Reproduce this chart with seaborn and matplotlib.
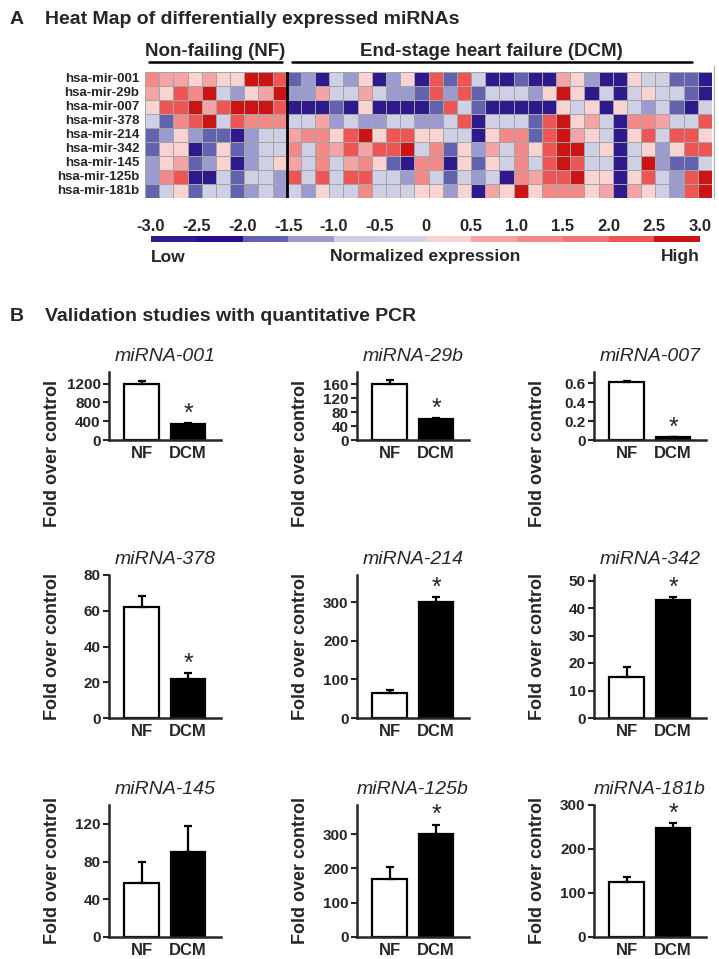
import numpy as np
import pandas as pd
import matplotlib
matplotlib.use("Agg")
import matplotlib.pyplot as plt
import seaborn as sns
from matplotlib.colors import ListedColormap, Normalize
from matplotlib.lines import Line2D
from matplotlib.cm import ScalarMappable

# ---- heat map data (normalized expression) ----
mirna_rows = ["hsa-mir-001", "hsa-mir-29b", "hsa-mir-007", "hsa-mir-378", "hsa-mir-214",
              "hsa-mir-342", "hsa-mir-145", "hsa-mir-125b", "hsa-mir-181b"]
n_nf = 10
n_dcm = 30
row_001 = [1.3, 0.8, 0.8, 0.3, 0.8, 0.3, 0.3, 2.8, 2.8, 2.2,
           -1.8, -1.2, -2.8, -0.6, -1.2, 0.3, -2.8, -1.2, 0.3, -2.8, 2.2, -1.8, 2.2, -0.6, -2.8,
           -2.8, -1.8, -2.8, -2.8, 0.8, 0.3, -1.2, -2.8, -2.8, 0.3, -0.6, -0.6, -1.8, -1.8, -2.8]
row_29b = [0.8, 0.3, 2.2, 1.3, 2.8, -0.6, -1.2, 0.3, 0.8, 2.8,
           -1.2, -1.2, 0.8, -0.6, -0.6, 0.8, -0.6, -1.2, -1.2, -1.8, 2.2, -1.2, 2.2, -1.8, -0.6,
           -0.6, -0.6, -1.2, 0.3, 2.8, 0.3, -2.8, -0.6, -2.8, -0.6, 0.3, -0.6, -0.6, -1.8, -2.8]
row_007 = [0.3, 2.2, 2.2, 2.8, 0.8, 2.2, 2.8, 2.8, 2.8, 2.2,
           -2.8, -2.8, -2.8, -1.8, -2.8, 0.3, -2.8, -2.8, -2.8, -2.8, -1.8, 2.2, -0.6, -1.8, -2.8,
           -2.8, -2.8, -2.8, -2.8, 0.3, -0.6, 0.3, -2.8, 0.3, -0.6, -1.2, -0.6, -1.8, -2.8, -0.6]
row_378 = [-0.6, -1.8, 1.3, 2.2, 2.8, -0.6, 2.2, 1.3, 1.3, 1.3,
           -0.6, -0.6, 0.8, -1.2, -0.6, -1.2, -1.2, -0.6, -0.6, -1.2, -1.2, -0.6, 2.2, -2.8, -0.6,
           -0.6, -0.6, -1.8, 2.2, 2.8, 0.3, 0.8, -0.6, -2.8, 1.3, 1.3, 0.8, -0.6, -0.6, 2.2]
row_214 = [-1.8, -1.2, 0.3, -1.2, -1.8, -1.8, -2.8, -1.2, -0.6, -0.6,
           0.8, 1.3, 1.3, 0.3, 2.2, 2.8, 0.3, 2.2, 2.2, 0.3, 0.3, -0.6, -0.6, -2.8, 0.3,
           1.3, 1.3, -1.8, 2.2, 2.8, 0.8, 0.3, -0.6, -2.8, 0.3, 2.2, -0.6, 2.2, 2.2, 0.3]
row_342 = [-1.8, 0.3, 0.3, -2.8, -1.8, 0.3, -1.8, -1.2, -0.6, -0.6,
           1.3, -0.6, 1.3, 0.8, 2.2, 0.8, 2.2, 2.2, 2.8, -0.6, 1.3, -1.8, 0.3, -1.2, 0.8,
           -0.6, 1.3, 0.3, 2.2, 2.8, 2.8, -0.6, 0.3, -2.8, -0.6, 0.3, -1.2, 0.3, 2.2, 2.2]
row_145 = [-1.2, 0.3, 0.8, -1.8, -1.2, 0.3, -2.8, -1.2, -0.6, 0.3,
           0.8, -0.6, 1.3, -0.6, 0.8, 1.3, 0.3, -1.8, -2.8, 1.3, 1.3, -2.8, 0.3, -1.8, 0.3,
           -0.6, 1.3, -0.6, 2.2, 2.8, 2.2, -0.6, -0.6, -2.8, -0.6, 2.8, -1.2, -1.8, -1.8, -0.6]
row_125b = [-1.2, 1.3, 2.2, -2.8, -2.8, -0.6, -1.8, -0.6, -0.6, -1.2,
            2.2, -0.6, 2.2, -0.6, 2.2, 2.2, -0.6, -0.6, -1.2, 1.3, -0.6, -1.8, -0.6, -1.2, -0.6,
            -2.8, 1.3, 0.8, 2.2, 2.2, 2.8, 0.3, 0.3, -2.8, 0.3, 2.2, -0.6, -1.2, 2.2, 2.8]
row_181b = [-1.8, -0.6, 0.3, -1.8, -0.6, -0.6, -1.8, -1.2, -0.6, -1.2,
            -0.6, -1.2, 0.3, -0.6, -0.6, 1.3, -0.6, -0.6, -0.6, 0.3, 0.3, -1.2, 0.3, -2.8, 0.8,
            0.3, 2.8, 0.3, 1.3, 1.3, 1.3, 0.3, 0.8, -2.8, 0.8, 0.3, -0.6, -1.2, 2.2, 2.8]
heat_colors = ["#2e1a8c", "#2a0a86", "#6262ae", "#9b9bcf", "#cfcfe6", "#d2d2e8",
               "#f9d2d2", "#f4a4a4", "#f38989", "#f07272", "#ee5656", "#cc1414"]
cbar_ticks = [-3.0, -2.5, -2.0, -1.5, -1.0, -0.5, 0, 0.5, 1.0, 1.5, 2.0, 2.5, 3.0]
cbar_labels = ["-3.0", "-2.5", "-2.0", "-1.5", "-1.0", "-0.5", "0", "0.5", "1.0", "1.5", "2.0", "2.5", "3.0"]

# ---- qPCR validation data ----
groups = ["NF", "DCM"]
panel_titles = ["miRNA-001", "miRNA-29b", "miRNA-007", "miRNA-378", "miRNA-214",
                "miRNA-342", "miRNA-145", "miRNA-125b", "miRNA-181b"]
nf_mean = [1200, 160, 0.61, 62, 65, 15, 57, 170, 125]
nf_err = [55, 12, 0.015, 6, 8, 3.5, 23, 33, 12]
dcm_mean = [340, 60, 0.03, 22, 300, 43, 90, 300, 248]
dcm_err = [20, 4, 0.005, 3, 14, 1, 28, 28, 10]
significant = [True, True, True, True, True, True, False, True, True]
yticks = [[0, 400, 800, 1200], [0, 40, 80, 120, 160], [0, 0.2, 0.4, 0.6],
          [0, 20, 40, 60, 80], [0, 100, 200, 300], [0, 10, 20, 30, 40, 50],
          [0, 40, 80, 120], [0, 100, 200, 300], [0, 100, 200, 300]]
ytick_labels = [["0", "400", "800", "1200"], ["0", "40", "80", "120", "160"], ["0", "0.2", "0.4", "0.6"],
                ["0", "20", "40", "60", "80"], ["0", "100", "200", "300"], ["0", "10", "20", "30", "40", "50"],
                ["0", "40", "80", "120"], ["0", "100", "200", "300"], ["0", "100", "200", "300"]]
ytops = [1450, 195, 0.72, 80, 370, 52, 140, 385, 300]

sns.set_style("ticks")
plt.rcParams["font.family"] = ["Liberation Sans", "DejaVu Sans"]

W, H = 719, 959
fig = plt.figure(figsize=(W / 100, H / 100), dpi=100)


def box(x0, y0, x1, y1):
    return [x0 / W, 1 - y1 / H, (x1 - x0) / W, (y1 - y0) / H]


def fx(x):
    return x / W


def fy(y):
    return 1 - y / H


# ---- panel A ----
fig.text(fx(10), fy(20), "A", fontsize=14, fontweight="bold", va="center")
fig.text(fx(45), fy(20), "Heat Map of differentially expressed miRNAs", fontsize=14,
         fontweight="bold", va="center")
fig.text(fx(215), fy(51), "Non-failing (NF)", fontsize=13.5, fontweight="bold", ha="center", va="center")
fig.text(fx(491), fy(51), "End-stage heart failure (DCM)", fontsize=13.5, fontweight="bold",
         ha="center", va="center")
fig.add_artist(Line2D([fx(149), fx(282)], [fy(62), fy(62)], color="black", lw=1.8))
fig.add_artist(Line2D([fx(292), fx(692)], [fy(62), fy(62)], color="black", lw=1.8))

heat = pd.DataFrame([row_001, row_29b, row_007, row_378, row_214, row_342, row_145, row_125b, row_181b],
                    index=mirna_rows)
cmap = ListedColormap(heat_colors)
ax_hm = fig.add_axes(box(145, 72, 712, 198))
sns.heatmap(heat, cmap=cmap, vmin=-3, vmax=3, cbar=False, linewidths=0.6, linecolor="#a4a4a4",
            xticklabels=False, yticklabels=True, ax=ax_hm)
ax_hm.axvline(n_nf, color="black", lw=2)
ax_hm.set_ylabel("")
ax_hm.tick_params(axis="y", length=0, pad=4)
for t in ax_hm.get_yticklabels():
    t.set_fontweight("bold")
    t.set_fontsize(9.5)
    t.set_rotation(0)
# thin grey edge line at the right side of the heat map
fig.add_artist(Line2D([fx(714), fx(714)], [fy(66), fy(198)], color="#b4b4b4", lw=1))

cax = fig.add_axes(box(151, 236, 700, 242))
cb = fig.colorbar(ScalarMappable(norm=Normalize(-3, 3), cmap=cmap), cax=cax, orientation="horizontal")
cb.outline.set_visible(False)
cax.xaxis.set_ticks_position("top")
cb.set_ticks(cbar_ticks)
cb.set_ticklabels(cbar_labels)
cax.tick_params(length=0, pad=1.5, labelsize=12)
for t in cax.get_xticklabels():
    t.set_fontweight("bold")
fig.text(fx(151), fy(257), "Low", fontsize=12.5, fontweight="bold", va="center")
fig.text(fx(425), fy(257), "Normalized expression", fontsize=12.5, fontweight="bold", ha="center", va="center")
fig.text(fx(700), fy(257), "High", fontsize=12.5, fontweight="bold", ha="right", va="center")

# ---- panel B ----
fig.text(fx(10), fy(317), "B", fontsize=14, fontweight="bold", va="center")
fig.text(fx(45), fy(317), "Validation studies with quantitative PCR", fontsize=14,
         fontweight="bold", va="center")

col_left = [109, 357, 594]
row_span = [(372, 440), (575, 718), (805, 937)]
ylabel_y = [-0.2, 0.5, 0.5]

for i, name in enumerate(panel_titles):
    r, c = divmod(i, 3)
    top, bot = row_span[r]
    ax = fig.add_axes(box(col_left[c], top, col_left[c] + 112, bot))
    vals = [nf_mean[i], dcm_mean[i]]
    errs = [nf_err[i], dcm_err[i]]
    sns.barplot(x=groups, y=vals, hue=groups, palette=["white", "black"], edgecolor="black",
                linewidth=1.6, width=0.75, errorbar=None, legend=False, ax=ax)
    ax.errorbar([0, 1], vals, yerr=[[0, 0], errs], fmt="none", ecolor="black",
                elinewidth=1.6, capsize=3, capthick=1.6, zorder=1)
    if significant[i]:
        ax.annotate("*", (1, vals[1] + errs[1]), xytext=(0, -2), textcoords="offset points",
                    ha="center", va="bottom", fontsize=18, annotation_clip=False)
    ax.set_xlim(-0.7, 1.71)
    ax.set_ylim(0, ytops[i])
    ax.set_yticks(yticks[i])
    ax.set_yticklabels(ytick_labels[i], fontsize=11, fontweight="bold")
    ax.set_xticks([0, 1])
    ax.set_xticklabels(groups, fontsize=12, fontweight="bold")
    ax.tick_params(axis="x", length=0, pad=4)
    ax.tick_params(axis="y", length=4, width=1.5, pad=2)
    sns.despine(ax=ax)
    for s in ["left", "bottom"]:
        ax.spines[s].set_linewidth(1.8)
    ax.set_title(name, fontsize=14, style="italic", pad=8)
    ax.set_ylabel("Fold over control", fontsize=13, fontweight="bold")
    ax.yaxis.set_label_coords(-0.43, ylabel_y[r])
    ax.set_xlabel("")

fig.savefig("out.png", dpi=100)
